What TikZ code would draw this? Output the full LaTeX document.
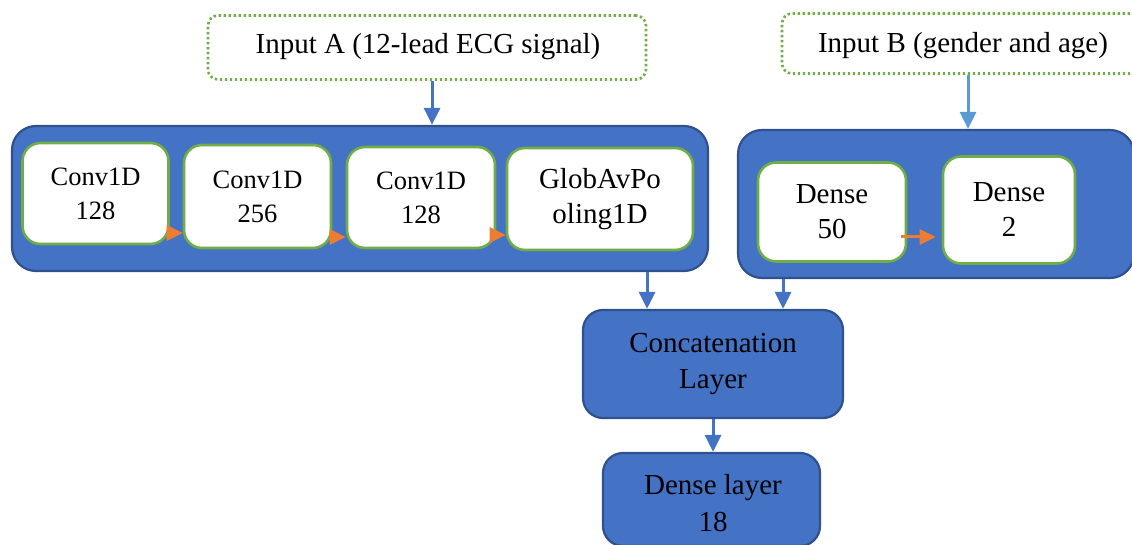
\documentclass[tikz,border=0pt]{standalone}
\usepackage{fontspec}
\setmainfont{Liberation Serif}
\usetikzlibrary{arrows.meta,calc}

\definecolor{boxblue}{HTML}{4472C4}
\definecolor{edgeblue}{HTML}{2F528F}
\definecolor{lightblue}{HTML}{5B9BD5}
\definecolor{leafgreen}{HTML}{70AD47}
\definecolor{accent}{HTML}{ED7D31}

\tikzset{
  group/.style={draw=edgeblue, line width=2.2pt, fill=boxblue, rounded corners=24pt},
  layer/.style={draw=leafgreen, line width=2.6pt, fill=white, rounded corners=18pt,
    align=center, inner sep=0pt, font=\fontsize{29}{35}\selectfont},
  convlayer/.style={layer, font=\fontsize{26.5}{34}\selectfont},
  inbox/.style={draw=leafgreen, line width=2.6pt, dash pattern=on 2.4pt off 2.6pt,
    rounded corners=10pt, inner sep=0pt},
  bluebox/.style={draw=edgeblue, line width=2.2pt, fill=boxblue, rounded corners=20pt,
    align=center, inner sep=0pt, font=\fontsize{29}{36}\selectfont},
  label/.style={font=\fontsize{29}{35}\selectfont, inner sep=0pt},
  barr/.style={draw=boxblue, line width=3pt, -{Triangle[length=17pt,width=16pt]}},
  lbarr/.style={draw=lightblue, line width=3pt, -{Triangle[length=17pt,width=16pt]}},
  oarr/.style={draw=accent, line width=3pt, -{Triangle[length=16pt,width=15pt]}},
}

\begin{document}
\begin{tikzpicture}[x=1pt, y=-1pt]
\useasboundingbox (0,0) rectangle (1132,545);
\clip (0,0) rectangle (1132,545);

% inputs
\node[inbox, minimum width=438pt, minimum height=64pt] (inA) at (427,47.5) {};
\node[label] (inAtext) at (428,47) {Input A (12-lead ECG signal)};
\node[inbox, minimum width=363pt, minimum height=60pt] (inB) at (963.5,43.5) {};
\node[label] (inBtext) at (963,46) {Input B (gender and age)};

% branch containers
\node[group, minimum width=696pt, minimum height=145pt] (grpA) at (360,198.5) {};
\node[group, minimum width=396pt, minimum height=148pt] (grpB) at (936,204) {};

% ECG branch
\node[convlayer, minimum width=146pt, minimum height=101pt] (c1) at (95.5,193.5) {Conv1D\\128};
\node[convlayer, minimum width=147pt, minimum height=103pt] (c2) at (257.5,196.5) {Conv1D\\256};
\node[convlayer, minimum width=148pt, minimum height=101pt] (c3) at (421,197.5) {Conv1D\\128};
\node[layer, minimum width=186pt, minimum height=102pt] (gap) at (600,199) {GlobAvPo\\oling1D};

% metadata branch
\node[layer, minimum width=148pt, minimum height=99pt] (d50) at (832,212) {Dense\\50};
\node[layer, minimum width=132pt, minimum height=107pt] (d2) at (1009,210) {Dense\\2};

% merge and output
\node[bluebox, minimum width=260pt, minimum height=108pt] (cat) at (713,364) {Concatenation\\Layer};
\node[draw=edgeblue, line width=2.2pt, fill=boxblue, rounded corners=20pt,
      minimum width=217pt, minimum height=93pt, inner sep=0pt] (out) at (711.5,499.5) {};
\node[label, align=center, font=\fontsize{29}{37}\selectfont] (outtext) at (713,503) {Dense layer\\18};

% connectors
\draw[barr] (inA.south -| 432,0) -- (grpA.north -| 432,0);
\draw[lbarr] (inB.south -| 968,0) -- (grpB.north -| 968,0);
\draw[oarr] ($(c1.east |- 0,233)+(-2,0)$) -- (c2.west |- 0,233);
\draw[oarr] ($(c2.east |- 0,237)+(-2,0)$) -- (c3.west |- 0,237);
\draw[oarr] ($(c3.east |- 0,235)+(-2,0)$) -- (gap.west |- 0,235);
\draw[oarr] ($(d50.east |- 0,237)+(-6,0)$) -- ($(d2.west |- 0,237)+(-6,0)$);
\draw[barr] (grpA.south -| 647,0) -- (cat.north -| 647,0);
\draw[barr] (grpB.south -| 783,0) -- (cat.north -| 783,0);
\draw[barr] (cat.south -| 713,0) -- (out.north -| 713,0);
\end{tikzpicture}
\end{document}
